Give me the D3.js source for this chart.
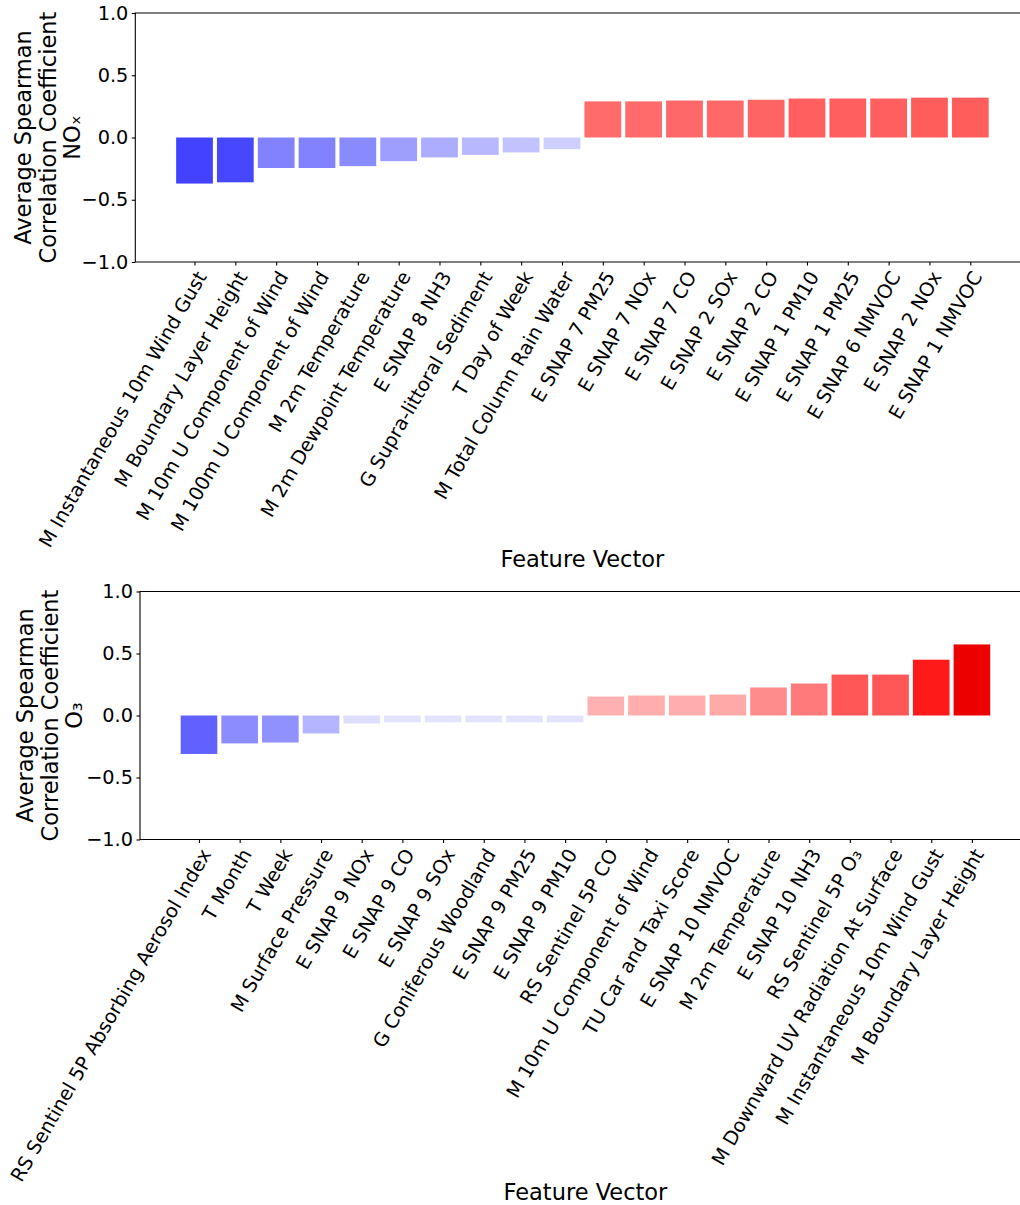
<!DOCTYPE html>
<html>
<head>
<meta charset="utf-8">
<script src="https://cdn.jsdelivr.net/npm/d3@7"></script>
<style>
  html, body { margin: 0; padding: 0; background: #fff; }
  svg { display: block; font-family: "DejaVu Sans", sans-serif; }
</style>
</head>
<body>
<svg id="chart" width="1020" height="1205"></svg>
<script>
// Feature vectors and their average Spearman correlation with NOx
const noxFeatures = [
  "M Instantaneous 10m Wind Gust", "M Boundary Layer Height", "M 10m U Component of Wind",
  "M 100m U Component of Wind", "M 2m Temperature", "M 2m Dewpoint Temperature",
  "E SNAP 8 NH3", "G Supra-littoral Sediment", "T Day of Week", "M Total Column Rain Water",
  "E SNAP 7 PM25", "E SNAP 7 NOx", "E SNAP 7 CO", "E SNAP 2 SOx", "E SNAP 2 CO",
  "E SNAP 1 PM10", "E SNAP 1 PM25", "E SNAP 6 NMVOC", "E SNAP 2 NOx", "E SNAP 1 NMVOC"
];
const noxValues = [
  -0.37, -0.36, -0.245, -0.245, -0.23, -0.19, -0.16, -0.14, -0.12, -0.094,
  0.29, 0.29, 0.297, 0.297, 0.303, 0.313, 0.313, 0.313, 0.32, 0.32
];

// Feature vectors and their average Spearman correlation with O3
const o3Features = [
  "RS Sentinel 5P Absorbing Aerosol Index", "T Month", "T Week", "M Surface Pressure",
  "E SNAP 9 NOx", "E SNAP 9 CO", "E SNAP 9 SOx", "G Coniferous Woodland", "E SNAP 9 PM25",
  "E SNAP 9 PM10", "RS Sentinel 5P CO", "M 10m U Component of Wind", "TU Car and Taxi Score",
  "E SNAP 10 NMVOC", "M 2m Temperature", "E SNAP 10 NH3", "RS Sentinel 5P O₃",
  "M Downward UV Radiation At Surface", "M Instantaneous 10m Wind Gust", "M Boundary Layer Height"
];
const o3Values = [
  -0.31, -0.225, -0.218, -0.145, -0.065, -0.055, -0.055, -0.055, -0.055, -0.055,
  0.153, 0.161, 0.161, 0.169, 0.226, 0.258, 0.33, 0.33, 0.45, 0.573
];

const yTicks = [-1, -0.5, 0, 0.5, 1];
const yTickLabels = ["−1.0", "−0.5", "0.0", "0.5", "1.0"];

// diverging "seismic" colour map over [-1, 1]
const seismic = d3.scaleLinear()
  .domain([-1, -0.5, 0, 0.5, 1])
  .range(["#00004d", "#0000ff", "#ffffff", "#ff0000", "#800000"])
  .interpolate(d3.interpolateRgb);

const svg = d3.select("#chart");
svg.append("rect").attr("width", 1020).attr("height", 1205).attr("fill", "#fff");

const TICK_FS = 19.3;
const LABEL_FS = 22.5;
const LINE_GAP = 24.5;

function drawPanel(cfg) {
  const { features, values, left, right, top, bottom, ylabelLines, ylabelX, xlabelY } = cfg;
  const g = svg.append("g");
  const n = features.length;

  const x = d3.scaleLinear().domain([-1.45, n - 1 + 1.45]).range([left, right]);
  const y = d3.scaleLinear().domain([-1, 1]).range([bottom, top]);
  const bw = x(0.45) - x(-0.45);

  // bars
  g.selectAll("rect.bar")
    .data(values)
    .join("rect")
    .attr("class", "bar")
    .attr("x", (d, i) => x(i) - bw / 2)
    .attr("width", bw)
    .attr("y", d => y(Math.max(0, d)))
    .attr("height", d => Math.abs(y(d) - y(0)))
    .attr("fill", d => seismic(d));

  // y axis
  const yAxis = d3.axisLeft(y)
    .tickValues(yTicks)
    .tickFormat((d, i) => yTickLabels[i])
    .tickSize(3.5)
    .tickPadding(3.5);
  const ya = g.append("g").attr("transform", `translate(${left},0)`).call(yAxis);
  ya.select(".domain").remove();
  ya.selectAll("line").attr("stroke", "#000").attr("stroke-width", 1.1);
  ya.selectAll("text").attr("font-size", TICK_FS).attr("fill", "#000")
    .attr("font-family", "DejaVu Sans");

  // x axis ticks
  const xAxis = d3.axisBottom(x)
    .tickValues(d3.range(n))
    .tickFormat("")
    .tickSize(3.5);
  const xa = g.append("g").attr("transform", `translate(0,${bottom})`).call(xAxis);
  xa.select(".domain").remove();
  xa.selectAll("line").attr("stroke", "#000").attr("stroke-width", 1.1);

  // rotated tick labels, anchored at their top-right corner
  g.selectAll("text.xl")
    .data(features)
    .join("text")
    .attr("class", "xl")
    .attr("transform", (d, i) => `translate(${x(i)},${bottom + 7}) rotate(-60)`)
    .attr("text-anchor", "end")
    .attr("y", TICK_FS * 0.76)
    .attr("font-size", TICK_FS)
    .attr("fill", "#000")
    .text(d => d);

  // spines (left, top, bottom)
  const sp = g.append("g").attr("stroke", "#000").attr("stroke-width", 1.1).attr("fill", "none");
  sp.append("path").attr("d", `M${left},${top}H${right}V${bottom}H${left}Z`);

  // y axis title, three stacked lines rotated
  const yl = g.append("text")
    .attr("transform", `translate(${ylabelX},${(top + bottom) / 2}) rotate(-90)`)
    .attr("text-anchor", "middle")
    .attr("font-size", LABEL_FS)
    .attr("fill", "#000");
  ylabelLines.forEach((line, i) => {
    yl.append("tspan")
      .attr("x", 0)
      .attr("y", (i - (ylabelLines.length - 1)) * LINE_GAP)
      .text(line);
  });

  // x axis title
  g.append("text")
    .attr("x", (left + right) / 2)
    .attr("y", xlabelY)
    .attr("text-anchor", "middle")
    .attr("font-size", LABEL_FS)
    .attr("fill", "#000")
    .text("Feature Vector");
}

drawPanel({
  features: noxFeatures, values: noxValues,
  left: 135.3, right: 1029.5, top: 13, bottom: 262,
  ylabelLines: ["Average Spearman", "Correlation Coefficient", "NOₓ"],
  ylabelX: 80, xlabelY: 567
});

drawPanel({
  features: o3Features, values: o3Values,
  left: 140, right: 1030.9, top: 591.5, bottom: 839.5,
  ylabelLines: ["Average Spearman", "Correlation Coefficient", "O₃"],
  ylabelX: 82, xlabelY: 1200
});
</script>
</body>
</html>
